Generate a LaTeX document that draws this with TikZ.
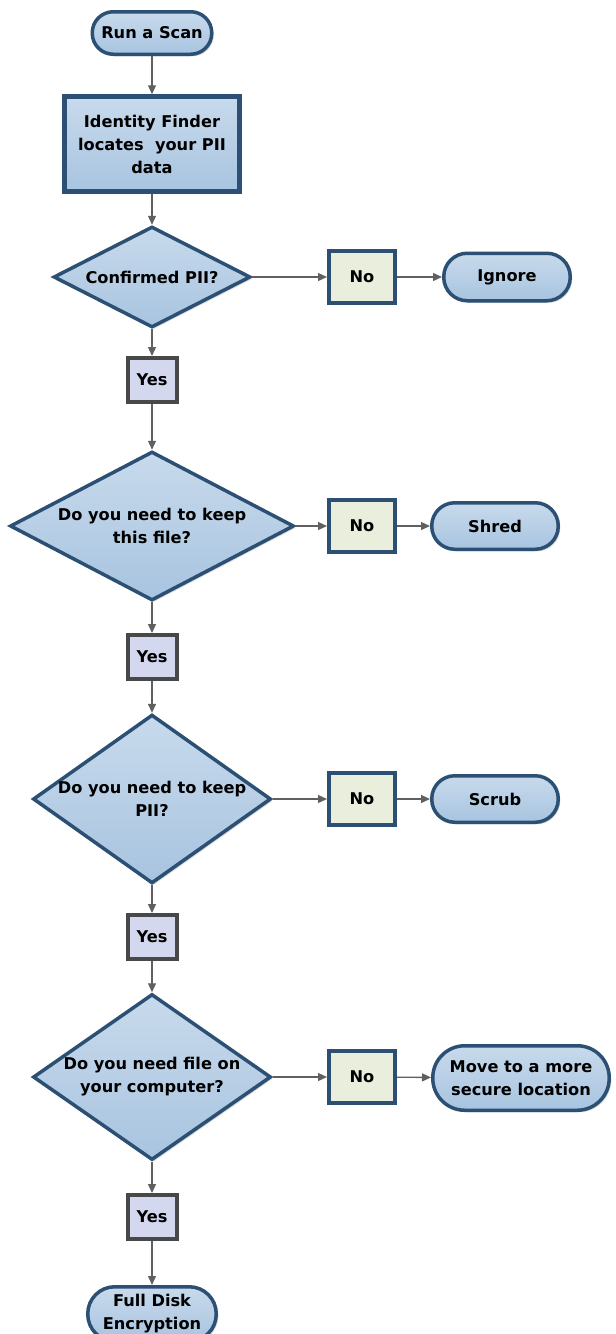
\documentclass[tikz,border=0pt]{standalone}
\usepackage{fontspec}
\setmainfont{DejaVu Sans}
\usepackage{tikz}
\usetikzlibrary{arrows.meta,shapes.geometric,shadows,positioning}
\definecolor{boxbluetop}{RGB}{200,218,236}
\definecolor{boxbluebot}{RGB}{168,196,224}
\definecolor{boxedge}{RGB}{44,80,116}
\definecolor{nofill}{RGB}{234,238,220}
\definecolor{yesfill}{RGB}{212,216,238}
\definecolor{yesedge}{RGB}{72,72,72}
\definecolor{flowedgecolor}{RGB}{96,96,96}
\tikzstyle{every node}=[font=\bfseries\fontsize{16.2}{23}\selectfont, align=center]
\tikzstyle{soft shadow}=[drop shadow={shadow xshift=2pt,shadow yshift=-2pt,opacity=0.15,fill=black}]
\tikzstyle{terminal}=[rectangle, soft shadow, draw=boxedge, line width=3.5pt, top color=boxbluetop, bottom color=boxbluebot, inner sep=0pt]
\tikzstyle{process}=[rectangle, soft shadow, draw=boxedge, line width=4.5pt, top color=boxbluetop, bottom color=boxbluebot]
\tikzstyle{decision}=[diamond, soft shadow, draw=boxedge, line width=3.5pt, top color=boxbluetop, bottom color=boxbluebot, inner sep=0pt]
\tikzstyle{no box}=[rectangle, soft shadow, draw=boxedge, line width=4pt, fill=nofill, minimum width=66pt, minimum height=52pt]
\tikzstyle{yes box}=[rectangle, soft shadow, draw=yesedge, line width=4pt, fill=yesfill, minimum width=49pt, minimum height=44pt]
\tikzstyle{flowedge}=[-{Triangle[length=9pt,width=8pt]}, line width=1.3pt, flowedgecolor]

\begin{document}
\begin{tikzpicture}[x=1pt,y=-1pt]
\def\colx{152}
\def\nox{362}

    \useasboundingbox (0,0) rectangle (616,1334);
    \clip (0,0) rectangle (616,1334);

	% Main column
    \node[terminal, minimum width=119.5pt, minimum height=42.5pt, rounded corners=21pt] (S) at (\colx,33) {Run a Scan};
    \node[process, minimum width=175pt, minimum height=95pt] (F) at (\colx,144) {Identity Finder\\locates~ your PII\\data};

    \node[decision, shape aspect=1.9, minimum width=197pt, minimum height=101pt] (D-1) at (\colx,277) {Confirmed PII?};
    \node[decision, shape aspect=1.9, minimum width=284pt, minimum height=149pt] (D-2) at (\colx,526) {Do you need to keep\\this file?};
    \node[decision, shape aspect=1.41, minimum width=237pt, minimum height=167pt] (D-3) at (\colx,799) {Do you need to keep\\PII?};
    \node[decision, shape aspect=1.43, minimum width=238pt, minimum height=166pt] (D-4) at (\colx,1077) {Do you need file on\\your computer?};

    \foreach \name / \y in {1/380,2/657,3/937,4/1217}
        \node[yes box] (Y-\name) at (\colx,\y) {Yes};

    \node[terminal, minimum width=128.5pt, minimum height=54.5pt, rounded corners=27pt] (FD) at (\colx,1314) {Full Disk\\Encryption};

	% Right column
    \foreach \name / \y in {1/277,2/526,3/799,4/1077}
        \node[no box] (N-\name) at (\nox,\y) {No};

    \node[terminal, minimum width=126.5pt, minimum height=47.5pt, rounded corners=23.5pt] (E-1) at (507,277) {Ignore};
    \node[terminal, minimum width=126.5pt, minimum height=46.5pt, rounded corners=23pt] (E-2) at (495,526) {Shred};
    \node[terminal, minimum width=126.5pt, minimum height=46.5pt, rounded corners=23pt] (E-3) at (495,799) {Scrub};
    \node[terminal, minimum width=176.5pt, minimum height=64.5pt, rounded corners=32pt] (E-4) at (521,1078) {Move to a more\\secure location};

	% Connectors
    \draw[flowedge] (S) -- (F);
    \draw[flowedge] (F) -- (D-1);

    \foreach \source in {1,...,4}
    {
        \draw[flowedge] (D-\source) -- (Y-\source);
        \draw[flowedge] (D-\source.east) -- (N-\source.west);
        \draw[flowedge] (N-\source) -- (E-\source);
    }

    \foreach \source / \dest in {1/2,2/3,3/4}
        \draw[flowedge] (Y-\source) -- (D-\dest);

    \draw[flowedge] (Y-4) -- (FD);

\end{tikzpicture}
\end{document}
